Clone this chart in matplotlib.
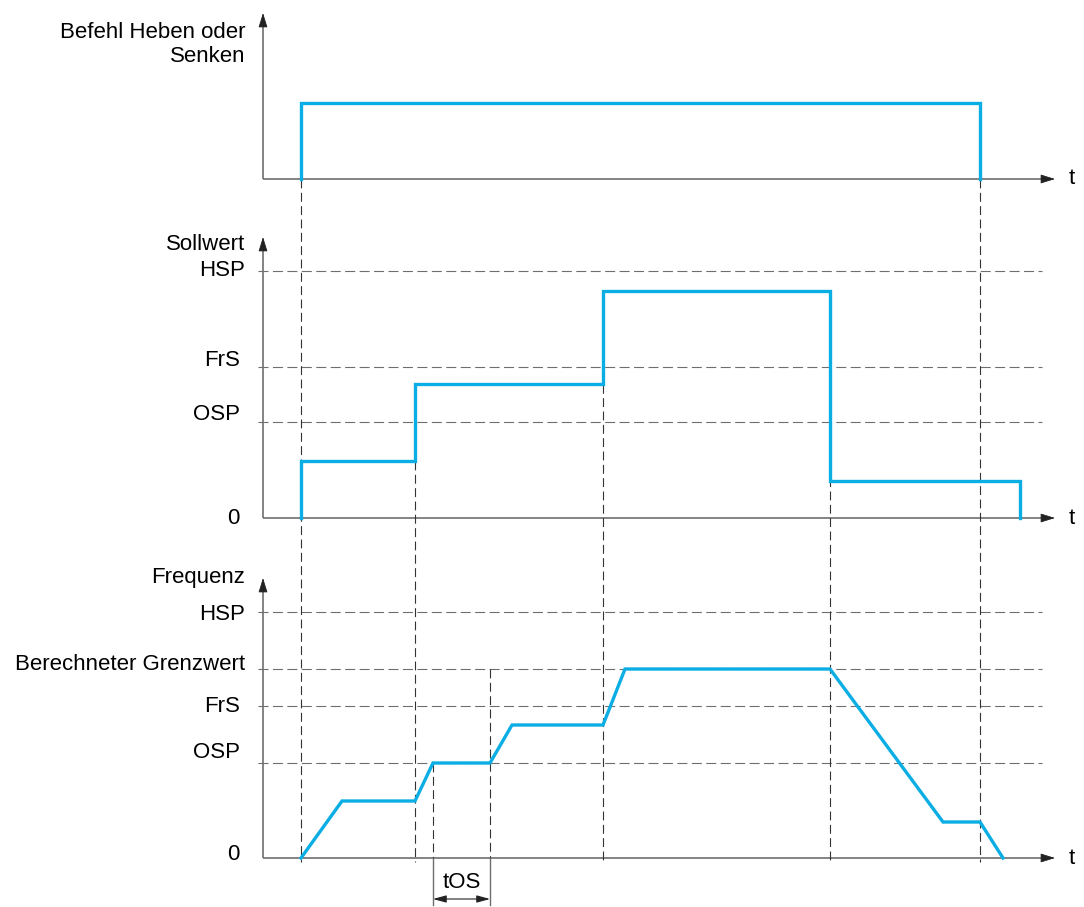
import matplotlib.pyplot as plt

plt.rcParams['font.family'] = ['Liberation Sans', 'DejaVu Sans']

# Befehl Heben oder Senken
t_cmd = [3.8, 3.8, 71.7, 71.7]
cmd = [0, 7.6, 7.6, 0]

# Sollwert
t_ref = [3.8, 3.8, 15.2, 15.2, 34.0, 34.0, 56.7, 56.7, 75.7, 75.7]
ref = [0, 5.7, 5.7, 13.4, 13.4, 22.7, 22.7, 3.7, 3.7, 0]
ref_names = ["HSP", "FrS", "OSP"]
ref_levels = [24.7, 15.1, 9.6]

# Frequenz
t_freq = [3.8, 7.9, 15.2, 17.0, 22.7, 24.9, 34.0, 36.2, 56.7, 68.0, 71.7, 74.0]
freq = [0, 5.7, 5.7, 9.5, 9.5, 13.3, 13.3, 18.9, 18.9, 3.6, 3.6, 0]
freq_names = ["HSP", "Berechneter Grenzwert", "FrS", "OSP"]
freq_levels = [24.6, 18.9, 15.2, 9.5]

# tOS
t_os = [17.0, 22.7]

blue = '#0aaee4'
grey = '#6e6e6e'
dark = '#333333'
fs = 16

fig = plt.figure(figsize=(10.84, 9.07), dpi=100)
ax = fig.add_axes([0, 0, 1, 1])
ax.set_xlim(-26.3, 82.1)
ax.set_ylim(0, 90.7)
ax.axis('off')

# Grundlinien der drei Diagramme
base1, base2, base3 = 72.8, 38.9, 4.9
tops = [base1 + 16.6, base2 + 28.1, base3 + 28.0]
t_end = 79.2


def axis_arrows(base, top):
    ax.plot([0, 0], [base, top - 1.0], color=grey, lw=1.2, solid_capstyle='butt')
    ax.plot([0, t_end - 1.0], [base, base], color=grey, lw=1.2, solid_capstyle='butt')
    style = '-|>,head_length=0.9,head_width=0.28'
    ax.annotate('', xy=(0, top), xytext=(0, top - 1.2),
                arrowprops=dict(arrowstyle=style, color='#222222', lw=0.6,
                                shrinkA=0, shrinkB=0, mutation_scale=10))
    ax.annotate('', xy=(t_end, base), xytext=(t_end - 1.2, base),
                arrowprops=dict(arrowstyle=style, color='#222222', lw=0.6,
                                shrinkA=0, shrinkB=0, mutation_scale=10))
    ax.text(t_end + 1.7, base, 't', fontsize=fs, ha='center', va='center')


for b, tp in zip([base1, base2, base3], tops):
    axis_arrows(b, tp)

dash_h = dict(color=grey, lw=0.8, dashes=(9, 4))
dash_v = dict(color=dark, lw=0.8, dashes=(8, 4))

# horizontale Grenzwerte
for lv in ref_levels:
    ax.plot([-0.5, 77.9], [base2 + lv, base2 + lv], **dash_h)
for lv in freq_levels:
    ax.plot([-0.5, 77.9], [base3 + lv, base3 + lv], **dash_h)

# vertikale Hilfslinien
v_lines = [(t_cmd[0], base1), (t_ref[3], base2 + ref[2]), (t_ref[4], base2 + ref[5]),
           (t_ref[6], base2 + ref[6]), (t_cmd[2], base1)]
for t, y0 in v_lines:
    ax.plot([t, t], [y0, base3 - 0.4], **dash_v)

for t, lv in zip(t_os, [freq[3], freq[7]]):
    ax.plot([t, t], [base3 + lv, base3], **dash_v)
    ax.plot([t, t], [base3, base3 - 4.7], color=grey, lw=1.0)

ax.annotate('', xy=(t_os[0], base3 - 4.1), xytext=(t_os[1], base3 - 4.1),
            arrowprops=dict(arrowstyle='<|-|>,head_length=0.8,head_width=0.22',
                            color='#222222', lw=0.8, shrinkA=0, shrinkB=0, mutation_scale=10))
ax.text((t_os[0] + t_os[1]) / 2, base3 - 2.4, 'tOS', fontsize=fs, ha='center', va='center')

# Signale
ax.plot(t_cmd, [base1 + v for v in cmd], color=blue, lw=2.4, solid_joinstyle='miter')
ax.plot(t_ref, [base2 + v for v in ref], color=blue, lw=2.4, solid_joinstyle='miter')
ax.plot(t_freq, [base3 + v for v in freq], color=blue, lw=2.4, solid_joinstyle='miter')

# Beschriftungen
ax.text(-1.8, base1 + 13.45, 'Befehl Heben oder\nSenken', fontsize=fs, ha='right',
        va='center', linespacing=1.25)
ax.text(-1.8, base2 + 27.3, 'Sollwert', fontsize=fs, ha='right', va='center')
ax.text(-1.8, base3 + 28.0, 'Frequenz', fontsize=fs, ha='right', va='center')

ref_offsets = [0.0, 0.7, 0.8]
ref_right = [-1.8, -2.3, -2.3]
for name, lv, off, xr in zip(ref_names, ref_levels, ref_offsets, ref_right):
    ax.text(xr, base2 + lv + off, name, fontsize=fs, ha='right', va='center')
ax.text(-2.3, base2, '0', fontsize=fs, ha='right', va='center')

freq_offsets = [-0.3, 0.4, 0.0, 1.1]
freq_right = [-1.8, -1.8, -2.3, -2.3]
for name, lv, off, xr in zip(freq_names, freq_levels, freq_offsets, freq_right):
    ax.text(xr, base3 + lv + off, name, fontsize=fs, ha='right', va='center')
ax.text(-2.3, base3 + 0.3, '0', fontsize=fs, ha='right', va='center')

fig.savefig('out.png', dpi=100)
